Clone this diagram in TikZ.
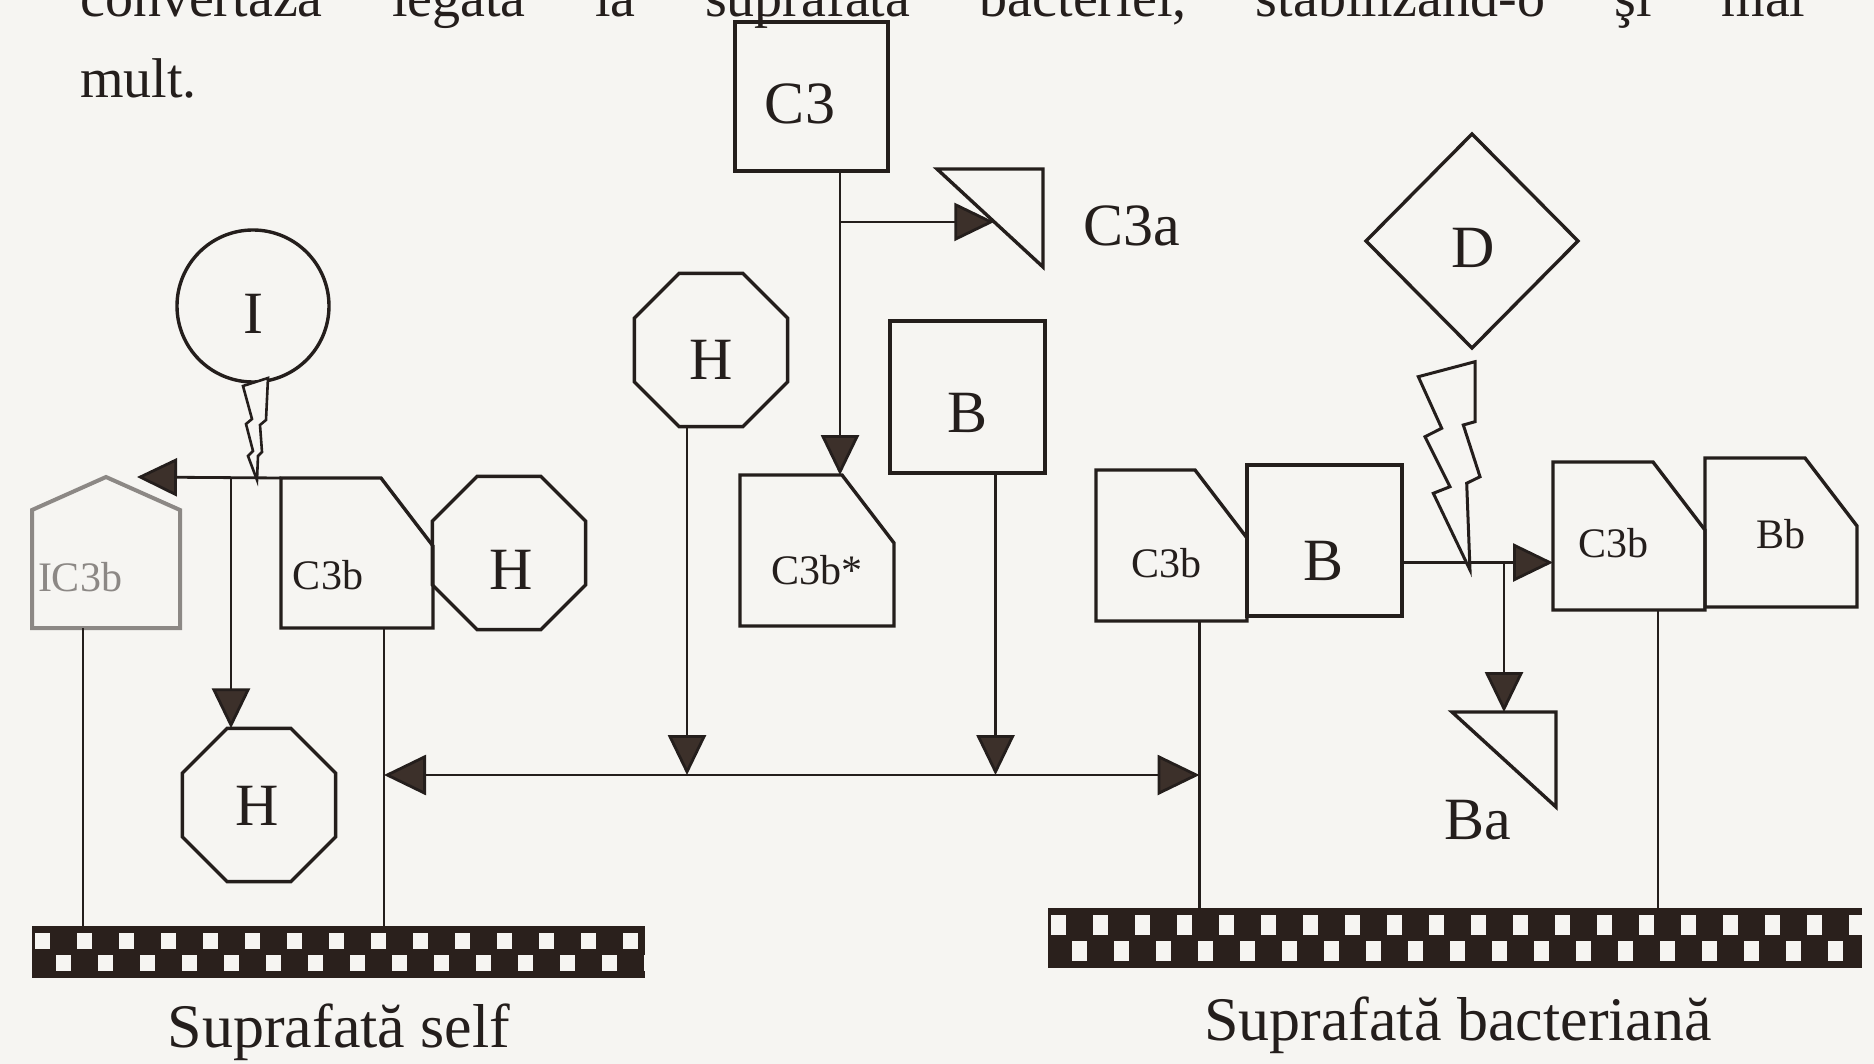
\documentclass[tikz,border=0pt]{standalone}
\usepackage{fontspec}
\setmainfont{Liberation Serif}
\usetikzlibrary{arrows.meta,shapes.geometric,calc}
\definecolor{paper}{RGB}{246,245,242}
\definecolor{ink}{RGB}{36,30,28}
\definecolor{tipc}{RGB}{60,48,42}
\definecolor{faded}{RGB}{140,136,133}
\definecolor{bardark}{RGB}{42,32,28}
\newcommand{\cutboxpath}[1]{\draw[shp] (#1.south west) -- (#1.north west) -- ([xshift=-52pt]#1.north east) -- ([yshift=-68pt]#1.north east) -- (#1.south east) -- cycle;}
\begin{document}
\begin{tikzpicture}[x=1pt,y=-1pt,
  shp/.style={draw=ink, line width=3.4pt, line join=miter, inner sep=0pt, outer sep=0pt},
  blank/.style={inner sep=0pt, outer sep=0pt},
  oct/.style={shp, regular polygon, regular polygon sides=8, minimum size=166pt},
  conn/.style={draw=ink, line width=2.8pt},
  tip/.style={-{Triangle[length=40pt,width=38pt,fill=tipc]}},
  dbl/.style={{Triangle[length=42pt,width=40pt,fill=tipc]}-{Triangle[length=42pt,width=40pt,fill=tipc]}},
  house/.style={draw=faded, line width=4pt, line join=miter},
  big/.style={font=\fontsize{60}{72}\selectfont, text=ink, inner sep=0pt},
  small/.style={font=\fontsize{42}{50}\selectfont, text=ink, inner sep=0pt},
  caption/.style={font=\fontsize{62}{72}\selectfont, text=ink, inner sep=0pt, anchor=base},
  prose/.style={font=\fontsize{56}{66}\selectfont, text=ink, inner sep=0pt, anchor=base west},
  checkbar/.style={fill=bardark, inner sep=0pt, outer sep=0pt,
    path picture={
      \foreach \cc in {0,...,40}{
        \foreach \rr in {0,1}{
          \pgfmathtruncatemacro{\chk}{mod(\cc+\rr,2)}
          \ifnum\chk=0
            \fill[paper] ($(path picture bounding box.north west)+(\cc*21+3,4+\rr*#1+3)$) rectangle ++(15,#1-6);
          \fi
        }
      }
    }},
]
\useasboundingbox (0,0) rectangle (1874,1064);
\clip (0,0) rectangle (1874,1064);
\fill[paper] (0,0) rectangle (1874,1064);

% running text of the page
\node[prose] (topline) at (80,17) {\hbox to 1725pt{convertază\hfill legată\hfill la\hfill suprafată\hfill bacteriei,\hfill stabilizând-o\hfill şi\hfill mai}};
\node[prose] (mult) at (80,98) {mult.};

% shapes
\node[shp, minimum width=153pt, minimum height=149pt] (C3) at (811.5,96.5) {};
\node[blank, minimum width=106pt, minimum height=98pt] (C3a) at (990,218) {};
\draw[shp] (C3a.north west) -- (C3a.north east) -- (C3a.south east) -- cycle;
\node[blank, minimum width=154pt, minimum height=151pt] (C3bS) at (817,550.5) {};
\cutboxpath{C3bS}
\node[oct] (H2) at (711,350) {};
\node[shp, minimum width=155pt, minimum height=152pt] (Bm) at (967.5,397) {};
\node[shp, circle, minimum size=152pt] (I) at (253,306) {};
\node[blank, minimum width=148pt, minimum height=151pt] (IC3b) at (106,552.5) {};
\draw[house] (IC3b.south west) -- ([yshift=-33pt]IC3b.north west) -- (IC3b.north) -- ([yshift=-33pt]IC3b.north east) -- (IC3b.south east) -- cycle;
\node[blank, minimum width=152pt, minimum height=150pt] (C3bL) at (357,553) {};
\cutboxpath{C3bL}
\node[oct] (Hr) at (509,553) {};
\node[oct] (Hb) at (259,805) {};
\node[checkbar=22, minimum width=613pt, minimum height=52pt] (selfbar) at (338.5,952) {};
\node[blank, minimum width=151pt, minimum height=151pt] (C3bM) at (1171.5,545.5) {};
\cutboxpath{C3bM}
\node[shp, minimum width=155pt, minimum height=151pt] (BM) at (1324.5,540.5) {};
\node[shp, diamond, minimum width=212pt, minimum height=214pt] (D) at (1472,241) {};
\node[blank, minimum width=152pt, minimum height=148pt] (C3bR) at (1629,536) {};
\cutboxpath{C3bR}
\node[blank, minimum width=152pt, minimum height=149pt] (Bb) at (1781,532.5) {};
\cutboxpath{Bb}
\node[blank, minimum width=104pt, minimum height=95pt] (Ba) at (1504,759.5) {};
\draw[shp] (Ba.north west) -- (Ba.north east) -- (Ba.south east) -- cycle;
\node[checkbar=26, minimum width=814pt, minimum height=60pt] (bactbar) at (1455,938) {};

% labels
\node[big] (tC3) at (800,104) {C3};
\node[big] (tC3a) at (1132,226) {C3a};
\node[small] (tC3bS) at (817,570) {C3b*};
\node[big] (tH2) at (711,360) {H};
\node[big] (tBm) at (967,413) {B};
\node[big] (tI) at (253,314) {I};
\node[small, text=faded] (tIC3b) at (80,577) {IC3b};
\node[small] (tC3bL) at (328,575) {C3b};
\node[big] (tHr) at (511,570) {H};
\node[big] (tHb) at (257,806) {H};
\node[small] (tC3bM) at (1166,563) {C3b};
\node[big] (tBM) at (1323,561) {B};
\node[big] (tD) at (1473,248) {D};
\node[small] (tC3bR) at (1613,543) {C3b};
\node[small] (tBb) at (1781,534) {Bb};
\node[big] (tBa) at (1478,820) {Ba};
\node[caption] (tself) at (339,1047) {Suprafată self};
\node[caption] (tbact) at (1458,1040) {Suprafată bacteriană};

% lightning bolts
\coordinate (Ibolt) at (257,480);
\begin{scope}[shift={(Ibolt)}]
  \draw[shp, line width=2.6pt, fill=paper] (-14,-94) -- (11,-102) -- (9,-60) -- (3,-55) -- (5,-28) -- (1,-24) -- (0,0) -- (-9,-24) -- (-4,-29) -- (-11,-56) -- (-5,-61) -- cycle;
\end{scope}

% connectors
\coordinate (lvl) at (0,775);
\coordinate (c3v) at ([xshift=100pt]C3bS.north west);
\draw[conn,tip] (C3.south -| c3v) -- (c3v);
\coordinate (c3aHit) at ($(C3a.north west)!0.54!(C3a.south east)$);
\draw[conn,tip] (c3v |- c3aHit) -- (c3aHit);

\coordinate (vL) at ([xshift=27pt]C3bL.south);
\coordinate (vM) at ([xshift=28pt]C3bM.south);
\draw[conn] (vL) -- (vL |- selfbar.north);
\draw[conn] (vM) -- (vM |- bactbar.north);
\draw[conn,dbl] (vL |- lvl) -- (vM |- lvl);
\coordinate (vH2) at ([xshift=-24pt]H2.south);
\draw[conn,tip] (vH2) -- (vH2 |- lvl);
\coordinate (vB) at ([xshift=28pt]Bm.south);
\draw[conn,tip] (vB) -- (vB |- lvl);

\coordinate (hbT) at ([xshift=-28pt]Hb.north);
\draw[conn,tip] (hbT |- C3bL.north) -- (hbT);
\coordinate (roofhit) at ([xshift=31pt]IC3b.north);
\draw[conn,tip] (C3bL.north west) -- (roofhit);
\coordinate (hv) at ([xshift=-23pt]IC3b.south);
\draw[conn, line width=2.2pt] (hv) -- (hv |- selfbar.north);

\coordinate (bmR) at ([yshift=-22pt]BM.east);
\draw[conn,tip] (bmR) -- (bmR -| C3bR.west);
\coordinate (baj) at (Ba.north |- bmR);
\draw[conn,tip] (baj) -- (Ba.north);
\coordinate (vR) at ([xshift=29pt]C3bR.south);
\draw[conn] (vR) -- (vR |- bactbar.north);

\coordinate (Dbolt) at (1470,570);
\begin{scope}[shift={(Dbolt)}]
  \draw[shp, line width=3pt, fill=paper] (-51.7,-193.3) -- (5,-208.3) -- (5,-148.3) -- (-6.7,-145) -- (10,-93.3) -- (-3.3,-86.7) -- (0,0) -- (-36.7,-76.7) -- (-20,-83.3) -- (-45,-133.3) -- (-28.3,-141.7) -- cycle;
\end{scope}
\end{tikzpicture}
\end{document}
